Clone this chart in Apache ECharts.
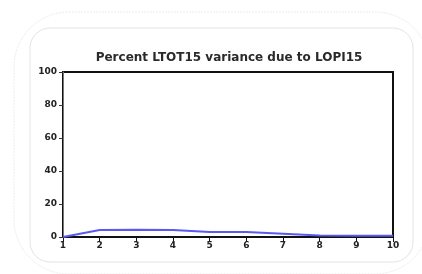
<!DOCTYPE html>
<html>
<head>
<meta charset="utf-8">
<script src="https://cdn.jsdelivr.net/npm/echarts@6/dist/echarts.min.js"></script>
<style>
  html, body { margin: 0; padding: 0; background: #fff; }
  #chart { width: 422px; height: 274px; }
</style>
</head>
<body>
<div id="chart"></div>
<script>
// periods and response (percent of variance)
let periods = [1, 2, 3, 4, 5, 6, 7, 8, 9, 10]
let variance = [0, 4.3, 4.4, 4.3, 3.1, 3.0, 2.0, 0.9, 0.8, 0.7]
let yTicks = [0, 20, 40, 60, 80, 100]

let points = periods.map((p, i) => [p, variance[i]])

let chart = echarts.init(document.getElementById('chart'))
let option = {
  animation: false,
  backgroundColor: '#fff',
  graphic: [
    { // outer faint frame
      type: 'rect', silent: true, z: -10,
      shape: { x: 14, y: 12, width: 416, height: 262, r: 55 },
      style: { fill: 'none', stroke: '#ececec', lineWidth: 1, lineDash: [2, 1] }
    },
    { // inner frame
      type: 'rect', silent: true, z: -9,
      shape: { x: 30, y: 28, width: 383, height: 234, r: 20 },
      style: { fill: '#fff', stroke: '#e4e4e4', lineWidth: 1 }
    }
  ],
  title: {
    text: 'Percent LTOT15 variance due to LOPI15',
    left: 224,
    textAlign: 'center',
    top: 47,
    textStyle: { fontFamily: 'DejaVu Sans', fontSize: 12, fontWeight: 'bold', color: '#2a2a2a' }
  },
  grid: { left: 63, right: 29, top: 72, bottom: 37, show: true, borderColor: '#111', borderWidth: 2, backgroundColor: 'transparent' },
  xAxis: {
    type: 'value', min: 1, max: 10, interval: 1,
    axisLine: { lineStyle: { color: '#111', width: 2 } },
    axisTick: { inside: false, length: 5, lineStyle: { color: '#111' } },
    axisLabel: { color: '#222', fontFamily: 'DejaVu Sans', fontSize: 9, fontWeight: 'bold', margin: 4 },
    splitLine: { show: false }
  },
  yAxis: {
    type: 'value', min: 0, max: 100, interval: 20,
    axisLine: { show: true, lineStyle: { color: '#777', width: 1 } },
    axisTick: { show: true, inside: false, length: 4, lineStyle: { color: '#333' } },
    axisLabel: {
      color: '#222', fontFamily: 'DejaVu Sans', fontSize: 9, fontWeight: 'bold', margin: 6,
      formatter: v => yTicks.includes(v) ? String(v) : ''
    },
    splitLine: { show: false }
  },
  series: [{
    type: 'line',
    data: points,
    showSymbol: false,
    lineStyle: { color: '#5a5af0', width: 2 },
    z: 3
  }]
}
chart.setOption(option)
</script>
</body>
</html>
